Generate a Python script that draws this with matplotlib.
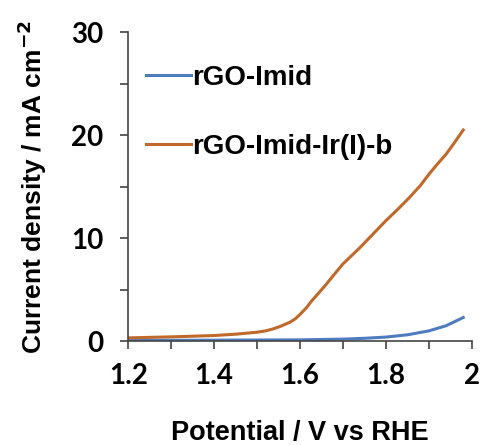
import matplotlib
matplotlib.use('Agg')
import matplotlib.pyplot as plt
from matplotlib.ticker import MultipleLocator

# 数据
pot_ir = [1.20, 1.30, 1.40, 1.45, 1.50, 1.52, 1.538, 1.555, 1.577, 1.59, 1.60, 1.615, 1.627, 1.645, 1.662, 1.68,
          1.70, 1.72, 1.74, 1.77, 1.80, 1.83, 1.856, 1.88, 1.902, 1.92, 1.941, 1.96, 1.98]
j_ir = [0.32, 0.42, 0.55, 0.68, 0.87, 1.0, 1.2, 1.45, 1.85, 2.2, 2.6, 3.25, 3.9, 4.75, 5.57, 6.5,
        7.5, 8.3, 9.1, 10.4, 11.7, 12.9, 14.0, 15.1, 16.3, 17.2, 18.2, 19.3, 20.5]

pot_imid = [1.20, 1.40, 1.60, 1.70, 1.75, 1.80, 1.85, 1.90, 1.94, 1.98]
j_imid = [0.07, 0.10, 0.13, 0.2, 0.28, 0.4, 0.62, 1.0, 1.5, 2.3]

labels = ['rGO-Imid', 'rGO-Imid-Ir(I)-b']

fig = plt.figure(figsize=(4.8, 4.46), dpi=100)
ax = fig.add_axes([0.267, 0.235, 0.716, 0.693])

ax.plot(pot_imid, j_imid, color='#4f7bbf', lw=2.2, label=labels[0])
ax.plot(pot_ir, j_ir, color='#c0692a', lw=2.2, label=labels[1])

ax.set_xlim(1.2, 2.0)
ax.set_ylim(0, 30)
ax.xaxis.set_major_locator(MultipleLocator(0.2))
ax.xaxis.set_minor_locator(MultipleLocator(0.1))
ax.yaxis.set_major_locator(MultipleLocator(10))
ax.yaxis.set_minor_locator(MultipleLocator(5))
ax.spines['top'].set_visible(False)
ax.spines['right'].set_visible(False)
for s in ['left', 'bottom']:
    ax.spines[s].set_color('#444444')
    ax.spines[s].set_linewidth(1.2)
ax.tick_params(which='both', direction='out', length=6, width=1.2, color='#444444')
ax.xaxis.set_major_formatter(plt.FuncFormatter(lambda v, p: '2' if abs(v - 2) < 1e-9 else f'{v:.1f}'))

for t in ax.get_xticklabels() + ax.get_yticklabels():
    t.set_fontfamily('Lato')
    t.set_fontweight('bold')
    t.set_fontsize(20)
ax.tick_params(axis='x', pad=10)
ax.tick_params(axis='y', pad=12)

ax.set_xlabel('Potential / V vs RHE', fontsize=19.5, fontweight='bold', family='Liberation Sans', labelpad=22)
ax.set_ylabel('Current density / mA cm$^{\\mathbf{-2}}$', fontsize=19, fontweight='bold', family='Liberation Sans', labelpad=16)

leg = ax.legend(loc='upper left', frameon=False, prop={'family': 'Liberation Sans', 'weight': 'bold', 'size': 20},
                handlelength=1.6, handletextpad=0.05, labelspacing=1.55, bbox_to_anchor=(-0.02, 0.975))

fig.savefig('out.png', dpi=100)
